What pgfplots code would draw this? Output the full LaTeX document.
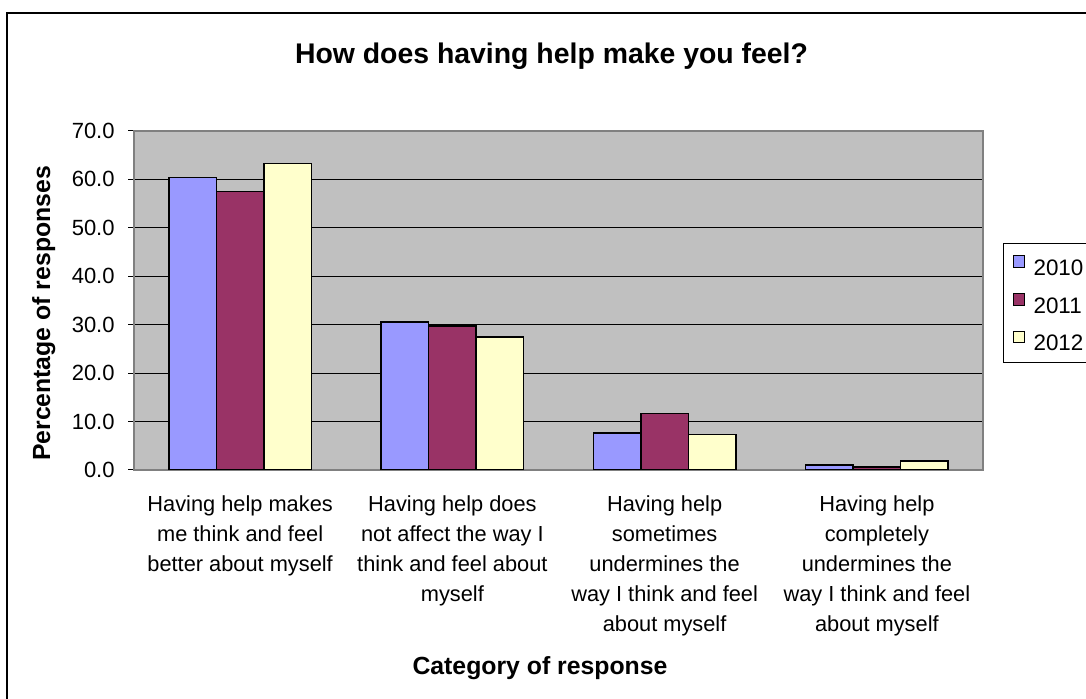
\documentclass[border=0pt]{standalone}
\usepackage{pgfplots}
\pgfplotsset{compat=1.18}
\usepackage{fontspec}
\setmainfont{Liberation Sans}
\definecolor{cA}{HTML}{9999FF}
\definecolor{cB}{HTML}{993366}
\definecolor{cC}{HTML}{FFFFCC}
\definecolor{plotbg}{HTML}{C0C0C0}
\definecolor{axgray}{HTML}{808080}
\begin{document}
\begin{tikzpicture}
\begin{scope}
\clip (0,0) rectangle (543pt,349.5pt);
\draw[line width=0.85pt] (3.5pt,343pt) rectangle (620pt,-40pt);
\begin{axis}[
  at={(67pt,114.5pt)}, anchor=south west,
  scale only axis, width=424.5pt, height=169.5pt,
  xmin=-0.5, xmax=3.5, ymin=0, ymax=70,
  ybar=0pt, bar width=23.75pt,
  axis background/.style={fill=plotbg},
  axis line style={axgray, line width=0.75pt},
  ytick={0,10,...,70},
  xtick pos=bottom, ytick pos=left,
  ymajorgrids, grid style={black, line width=0.5pt},
  tick align=outside, major tick length=3pt,
  tick style={black, line width=0.5pt},
  xtick={0,1,2,3},
  xticklabels={{Having help makes\\me think and feel\\better about myself},
               {Having help does\\not affect the way I\\think and feel about\\myself},
               {Having help\\sometimes\\undermines the\\way I think and feel\\about myself},
               {Having help\\completely\\undermines the\\way I think and feel\\about myself}},
  x tick style={draw=none},
  xticklabel style={align=center, inner sep=0pt, anchor=north, yshift=-9.5pt,
     font=\fontsize{10.9}{15}\selectfont},
  extra x ticks={-0.5,0.5,1.5,2.5,3.5},
  extra x tick labels={},
  extra x tick style={grid=none, major tick length=3pt, tick style={draw=black}},
  yticklabel style={inner sep=0pt, anchor=east, xshift=-6.5pt, font=\fontsize{11}{13}\selectfont},
  /pgf/number format/.cd, fixed, fixed zerofill, precision=1, assume math mode=true,
  /pgfplots/.cd,
  legend style={at={(1.0236,0.6696)}, anchor=north west, draw=black, line width=0.5pt,
     fill=white, inner xsep=4.5pt, inner ysep=6pt, row sep=8.8pt,
     font=\fontsize{11.2}{13}\selectfont,
     nodes={inner sep=0pt, text height=7.9pt, text depth=0pt},
     /tikz/every odd column/.append style={column sep=4.2pt}},
  legend cell align=left,
  legend image code/.code={\draw[#1, line width=0.5pt] (0pt,0pt) rectangle (5.8pt,5.8pt);},
]
\addplot[fill=cA, draw=black, line width=0.8pt] coordinates {(0,60.4) (1,30.5) (2,7.6) (3,1.0)};
\addplot[fill=cB, draw=black, line width=0.8pt] coordinates {(0,57.5) (1,29.7) (2,11.7) (3,0.6)};
\addplot[fill=cC, draw=black, line width=0.8pt] coordinates {(0,63.3) (1,27.5) (2,7.3) (3,1.8)};
\legend{\makebox[30pt][l]{2010},\makebox[30pt][l]{2011},\makebox[30pt][l]{2012}}
\end{axis}
\node[anchor=base, font=\bfseries\fontsize{14.2}{16}\selectfont] at (275.75pt,317.85pt) {How does having help make you feel?};
\node[anchor=base, font=\bfseries\fontsize{12.4}{14}\selectfont] at (270pt,12pt) {Category of response};
\node[anchor=base, rotate=90, font=\bfseries\fontsize{12.4}{14}\selectfont] at (25pt,192.75pt) {Percentage of responses};
\end{scope}
\pgfresetboundingbox
\useasboundingbox (0,0) rectangle (543pt,349.5pt);
\end{tikzpicture}
\end{document}
